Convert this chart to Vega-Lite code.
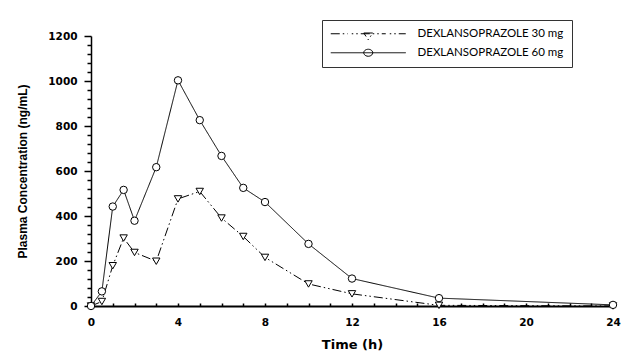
{
  "$schema": "https://vega.github.io/schema/vega-lite/v6.json",
  "width": 522,
  "height": 270,
  "autosize": {"type": "none"},
  "padding": {"left": 91, "top": 36, "right": 29, "bottom": 56},
  "background": "white",
  "config": {
    "view": {"stroke": null},
    "axis": {"grid": false, "domainColor": "black", "tickColor": "black", "labelColor": "black", "titleColor": "black"}
  },
  "data": {"values": [
    {"t": 0, "c": 0, "Series": "DEXLANSOPRAZOLE 30 mg"},
    {"t": 0.5, "c": 20, "Series": "DEXLANSOPRAZOLE 30 mg"},
    {"t": 1, "c": 179, "Series": "DEXLANSOPRAZOLE 30 mg"},
    {"t": 1.5, "c": 302, "Series": "DEXLANSOPRAZOLE 30 mg"},
    {"t": 2, "c": 238, "Series": "DEXLANSOPRAZOLE 30 mg"},
    {"t": 3, "c": 199, "Series": "DEXLANSOPRAZOLE 30 mg"},
    {"t": 4, "c": 476, "Series": "DEXLANSOPRAZOLE 30 mg"},
    {"t": 5, "c": 509, "Series": "DEXLANSOPRAZOLE 30 mg"},
    {"t": 6, "c": 391, "Series": "DEXLANSOPRAZOLE 30 mg"},
    {"t": 7, "c": 309, "Series": "DEXLANSOPRAZOLE 30 mg"},
    {"t": 8, "c": 216, "Series": "DEXLANSOPRAZOLE 30 mg"},
    {"t": 10, "c": 98, "Series": "DEXLANSOPRAZOLE 30 mg"},
    {"t": 12, "c": 54, "Series": "DEXLANSOPRAZOLE 30 mg"},
    {"t": 16, "c": 3, "Series": "DEXLANSOPRAZOLE 30 mg"},
    {"t": 24, "c": 0, "Series": "DEXLANSOPRAZOLE 30 mg"},
    {"t": 0, "c": 0, "Series": "DEXLANSOPRAZOLE 60 mg"},
    {"t": 0.5, "c": 65, "Series": "DEXLANSOPRAZOLE 60 mg"},
    {"t": 1, "c": 442, "Series": "DEXLANSOPRAZOLE 60 mg"},
    {"t": 1.5, "c": 516, "Series": "DEXLANSOPRAZOLE 60 mg"},
    {"t": 2, "c": 379, "Series": "DEXLANSOPRAZOLE 60 mg"},
    {"t": 3, "c": 617, "Series": "DEXLANSOPRAZOLE 60 mg"},
    {"t": 4, "c": 1003, "Series": "DEXLANSOPRAZOLE 60 mg"},
    {"t": 5, "c": 826, "Series": "DEXLANSOPRAZOLE 60 mg"},
    {"t": 6, "c": 667, "Series": "DEXLANSOPRAZOLE 60 mg"},
    {"t": 7, "c": 525, "Series": "DEXLANSOPRAZOLE 60 mg"},
    {"t": 8, "c": 462, "Series": "DEXLANSOPRAZOLE 60 mg"},
    {"t": 10, "c": 276, "Series": "DEXLANSOPRAZOLE 60 mg"},
    {"t": 12, "c": 122, "Series": "DEXLANSOPRAZOLE 60 mg"},
    {"t": 16, "c": 35, "Series": "DEXLANSOPRAZOLE 60 mg"},
    {"t": 24, "c": 5, "Series": "DEXLANSOPRAZOLE 60 mg"}
  ]},
  "encoding": {
    "x": {
      "field": "t", "type": "quantitative",
      "scale": {"domain": [0, 24], "nice": false, "zero": false},
      "axis": {
        "title": "Time (h)",
        "values": [0,1,2,3,4,5,6,7,8,9,10,11,12,13,14,15,16,17,18,19,20,21,22,23,24],
        "labelExpr": "datum.value % 4 === 0 ? datum.label : ''",
        "tickSize": -3,
        "tickWidth": 1.5,
        "domainWidth": 2,
        "labelFont": "DejaVu Sans", "labelFontWeight": "bold", "labelFontSize": 10.5,
        "labelPadding": 14,
        "labelFlush": false,
        "titleFont": "DejaVu Sans", "titleFontWeight": "bold", "titleFontSize": 13,
        "titlePadding": 11
      }
    },
    "y": {
      "field": "c", "type": "quantitative",
      "scale": {"domain": [0, 1200], "nice": false},
      "axis": {
        "title": "Plasma Concentration (ng/mL)",
        "values": [0,40,80,120,160,200,240,280,320,360,400,440,480,520,560,600,640,680,720,760,800,840,880,920,960,1000,1040,1080,1120,1160,1200],
        "labelExpr": "datum.value % 200 === 0 ? datum.label : ''",
        "format": "d",
        "tickSize": {"condition": {"test": "datum.value % 200 === 0", "value": 7}, "value": 4},
        "tickWidth": 1.5,
        "domainWidth": 1.5,
        "labelFont": "DejaVu Sans", "labelFontWeight": "bold", "labelFontSize": 10.5,
        "labelPadding": 7,
        "labelFlush": false,
        "titleFont": "Liberation Sans", "titleFontWeight": "bold", "titleFontSize": 12,
        "titlePadding": 18
      }
    }
  },
  "layer": [
    {
      "mark": {"type": "line", "color": "black", "strokeWidth": 1},
      "encoding": {
        "strokeDash": {
          "field": "Series", "type": "nominal",
          "scale": {"domain": ["DEXLANSOPRAZOLE 30 mg", "DEXLANSOPRAZOLE 60 mg"], "range": [[9, 3, 1.5, 3, 1.5, 3], [1, 0]]},
          "legend": {
            "title": null,
            "orient": "none",
            "legendX": 231,
            "legendY": -16,
            "strokeColor": "#333",
            "fillColor": "white",
            "padding": 8,
            "labelFont": "Lato",
            "labelFontSize": 11.5,
            "labelColor": "black",
            "labelOffset": 76,
            "labelLimit": 0,
            "rowPadding": 4,
            "symbolSize": 100,
            "symbolStrokeColor": "black",
            "symbolStrokeWidth": 1,
            "encode": {
              "symbols": {
                "update": {
                  "shape": {"signal": "datum.value === 'DEXLANSOPRAZOLE 30 mg' ? 'M-1,0L2.4,0M3.2,0L3.5,0M4.1,0L4.4,0M5,0L10,0M10.8,0L11.1,0M11.7,0L12,0M12.6,0L14,0M5.6,-0.15L7.4,-0.15L6.5,1.2Z' : 'M-1,0L14,0M5.6,0A0.9,0.7 0 1,0 7.4,0A0.9,0.7 0 1,0 5.6,0Z'"},
                  "size": {"value": 100},
                  "strokeDash": {"value": []},
                  "fill": {"value": "white"},
                  "stroke": {"value": "black"},
                  "opacity": {"value": 1}
                }
              }
            }
          }
        }
      }
    },
    {
      "mark": {"type": "point", "filled": true, "fill": "white", "stroke": "black", "strokeWidth": 1, "size": 55, "opacity": 1},
      "encoding": {
        "shape": {
          "condition": {"test": "datum.Series === 'DEXLANSOPRAZOLE 30 mg'", "value": "triangle-down"},
          "value": "circle"
        }
      }
    }
  ]
}
